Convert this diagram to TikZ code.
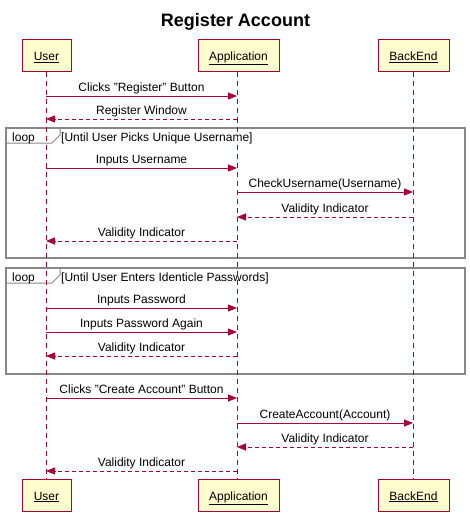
\documentclass[tikz,border=0pt]{standalone}
\usepackage{fontspec}
\setmainfont{Liberation Sans}
\usetikzlibrary{arrows.meta}
\definecolor{pred}{HTML}{A80036}
\definecolor{pfill}{HTML}{FEFECE}
\definecolor{fgray}{HTML}{888888}
\begin{document}
\begin{tikzpicture}[x=1pt,y=-1pt,
  part/.style={draw=pred, fill=pfill, line width=1pt, minimum width=#1, minimum height=32pt, inner sep=0pt, text height=9pt, text depth=0pt, font=\fontsize{12}{14}\selectfont},
  life/.style={draw=pred, line width=0.8pt, dash pattern=on 5pt off 4pt},
  msg/.style={draw=pred, line width=0.9pt, -{Triangle[length=9pt,width=7pt]}},
  ret/.style={msg, dash pattern=on 4pt off 3pt},
  lbl/.style={anchor=base, inner sep=0pt, font=\fontsize{12}{14}\selectfont},
  grd/.style={anchor=base west, inner sep=0pt, font=\fontsize{12}{14}\selectfont},
  frm/.style={draw=fgray, line width=1.5pt},
  tab/.style={draw=fgray, line width=1pt}]
\useasboundingbox (0,0) rectangle (469,516);
\node[font=\bfseries\fontsize{18}{20}\selectfont, anchor=base] (title) at (235.5,27) {Register Account};
% participants
\node[part=49pt] (utop) at (46.5,56) {\underline{User}};
\node[part=81pt] (atop) at (238.5,56) {\underline{Application}};
\node[part=71pt] (btop) at (413.5,56) {\underline{BackEnd}};
\node[part=49pt] (ubot) at (46.5,495.5) {\underline{User}};
\node[part=81pt] (abot) at (238.5,495.5) {\underline{Application}};
\node[part=71pt] (bbot) at (413.5,495.5) {\underline{BackEnd}};
% frames (drawn before lifelines)
\draw[frm] (6,128) rectangle (465,258);
\draw[tab] (6,128) -- (60,128) -- (60,135) -- (52,143) -- (6,143);
\node[grd] (l1) at (12,141) {loop};
\node[grd] (g1) at (61,141) {[Until User Picks Unique Username]};
\draw[frm] (6,268) rectangle (465,374);
\draw[tab] (6,268) -- (60,268) -- (60,275) -- (52,283) -- (6,283);
\node[grd] (l2) at (12,281) {loop};
\node[grd] (g2) at (61,281) {[Until User Enters Identicle Passwords]};
% lifelines
\draw[life] (utop.south -| 46,0) -- (ubot.north -| 46,0);
\draw[life] (atop.south -| 237,0) -- (abot.north -| 237,0);
\draw[life] (btop.south -| 413,0) -- (bbot.north -| 413,0);
% message anchor coordinates
\foreach \n/\y in {1/96,2/119,3/168,4/192,5/217,6/241,7/308,8/332,9/356,10/398,11/423,12/447,13/471}{
  \coordinate (u\n) at (46,\y);
  \coordinate (a\n) at (237,\y);
  \coordinate (b\n) at (413,\y);
}
\draw[msg] (u1) -- (a1) node[lbl, midway, yshift=4.5pt] {Clicks "Register" Button};
\draw[ret] (a2) -- (u2) node[lbl, midway, yshift=4.5pt] {Register Window};
\draw[msg] (u3) -- (a3) node[lbl, midway, yshift=4.5pt] {Inputs Username};
\draw[msg] (a4) -- (b4) node[lbl, midway, yshift=4.5pt] {CheckUsername(Username)};
\draw[ret] (b5) -- (a5) node[lbl, midway, yshift=4.5pt] {Validity Indicator};
\draw[ret] (a6) -- (u6) node[lbl, midway, yshift=4.5pt] {Validity Indicator};
\draw[msg] (u7) -- (a7) node[lbl, midway, yshift=4.5pt] {Inputs Password};
\draw[msg] (u8) -- (a8) node[lbl, midway, yshift=4.5pt] {Inputs Password Again};
\draw[ret] (a9) -- (u9) node[lbl, midway, yshift=4.5pt] {Validity Indicator};
\draw[msg] (u10) -- (a10) node[lbl, midway, yshift=4.5pt] {Clicks "Create Account" Button};
\draw[msg] (a11) -- (b11) node[lbl, midway, yshift=4.5pt] {CreateAccount(Account)};
\draw[ret] (b12) -- (a12) node[lbl, midway, yshift=4.5pt] {Validity Indicator};
\draw[ret] (a13) -- (u13) node[lbl, midway, yshift=4.5pt] {Validity Indicator};
\end{tikzpicture}
\end{document}
